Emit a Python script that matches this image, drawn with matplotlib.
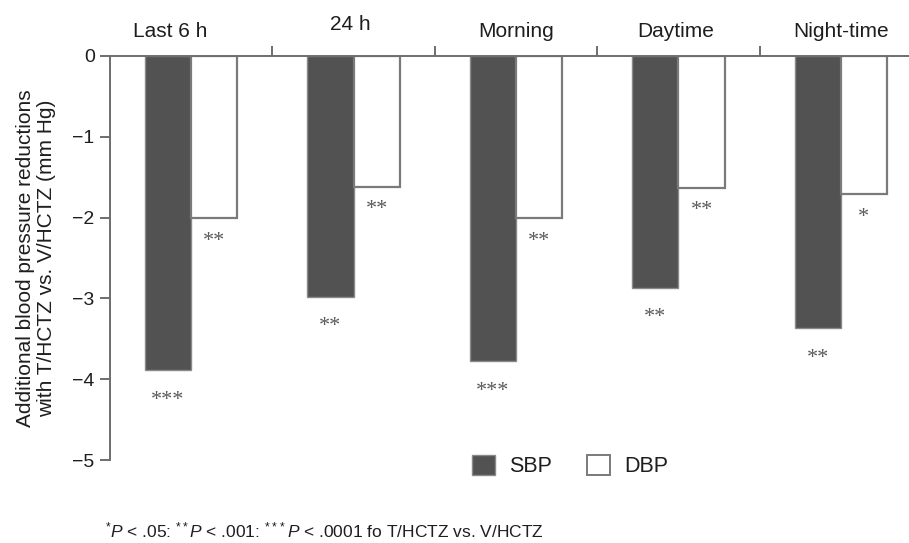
"""
Additional blood pressure reductions, T/HCTZ vs. V/HCTZ.
Grouped bars hanging from a zero line at the top, categories written above.
"""

import matplotlib.pyplot as plt
import numpy as np
from matplotlib.patches import Patch

plt.rcParams['font.family'] = ['Liberation Sans', 'DejaVu Sans']
plt.rcParams['mathtext.fontset'] = 'custom'
plt.rcParams['mathtext.rm'] = 'Liberation Sans'
plt.rcParams['mathtext.it'] = 'Liberation Sans:italic'

# Data
categories = ['Last 6 h', '24 h', 'Morning', 'Daytime', 'Night-time']
sbp = [-3.89, -2.98, -3.78, -2.87, -3.37]
dbp = [-2.01, -1.62, -2.01, -1.63, -1.71]
sbp_sig = ['***', '**', '***', '**', '**']
dbp_sig = ['**', '**', '**', '**', '*']
yticks = [0, -1, -2, -3, -4, -5]

# Style
SBP_COLOR = '#525252'
AXIS_COLOR = '#6e6e6e'
TEXT_COLOR = '#1e1e1e'
BAR_W = 0.285
PX = 0.72  # points per pixel at dpi 100
# small nudges of the category labels (pixels), as in the source figure
label_dx = [-21, -3, 0, -3, 0]
label_dy = [0, 7, 0, 0, 0]

fig = plt.figure(figsize=(9.09, 5.43), dpi=100)
ax = fig.add_axes([110 / 909, 1 - 460 / 543, 812 / 909, 404 / 543])

x = np.arange(len(categories))
ax.bar(x - BAR_W / 2, sbp, BAR_W, color=SBP_COLOR, edgecolor='#8a8a8a', lw=1.0)
ax.bar(x + BAR_W / 2, dbp, BAR_W, color='white', edgecolor='#7a7a7a', lw=1.6)

# significance marks under each bar
star_kw = dict(ha='center', va='center', fontsize=16, color='#5a5a5a',
               family=['Liberation Serif', 'DejaVu Serif'], textcoords='offset points')
for i in range(len(categories)):
    ax.annotate(sbp_sig[i], (x[i] - BAR_W / 2, sbp[i]), xytext=(0, -30 * PX), **star_kw)
    ax.annotate(dbp_sig[i], (x[i] + BAR_W / 2, dbp[i]), xytext=(0, -23 * PX), **star_kw)

# category labels above the zero line
for i, name in enumerate(categories):
    ax.annotate(name, (x[i], 0), xytext=(label_dx[i] * PX, (19 + label_dy[i]) * PX),
                textcoords='offset points', ha='center', va='baseline', fontsize=15,
                color=TEXT_COLOR, annotation_clip=False)

ax.set_xlim(-0.5, len(categories) - 0.5)
ax.set_ylim(-5, 0)
ax.set_yticks(yticks)
ax.set_yticklabels(['0'] + ['\u2212%d' % abs(t) for t in yticks[1:]])

ax.set_xticks(x[:-1] + 0.5)
ax.set_xticklabels([])
ax.xaxis.set_ticks_position('top')

for side in ['right', 'bottom']:
    ax.spines[side].set_visible(False)
for side in ['left', 'top']:
    ax.spines[side].set_color(AXIS_COLOR)
    ax.spines[side].set_linewidth(1.4)
ax.tick_params(axis='both', direction='out', length=7, width=1.4, color=AXIS_COLOR,
               labelsize=14, labelcolor=TEXT_COLOR, pad=4)

ax.set_ylabel('Additional blood pressure reductions\nwith T/HCTZ vs. V/HCTZ (mm Hg)',
              fontsize=15, color=TEXT_COLOR, labelpad=12, linespacing=1.12)

handles = [Patch(facecolor=SBP_COLOR, edgecolor='#8a8a8a', label='SBP'),
           Patch(facecolor='white', edgecolor='#7a7a7a', lw=1.4, label='DBP')]
fig.legend(handles=handles, loc='center', bbox_to_anchor=(570 / 909, 1 - 466 / 543),
           ncol=2, frameon=False, fontsize=15.5, handlelength=1.1, handleheight=1.1,
           handletextpad=0.65, columnspacing=1.6, labelcolor=TEXT_COLOR)

fig.text(105 / 909, 1 - 530 / 543,
         r'${}^{*}P$ < .05: ${}^{**}P$ < .001: ${}^{***}P$ < .0001 fo T/HCTZ vs. V/HCTZ',
         fontsize=12.5, color=TEXT_COLOR, ha='left', va='center')

fig.savefig('out.png', dpi=100, facecolor='white')
